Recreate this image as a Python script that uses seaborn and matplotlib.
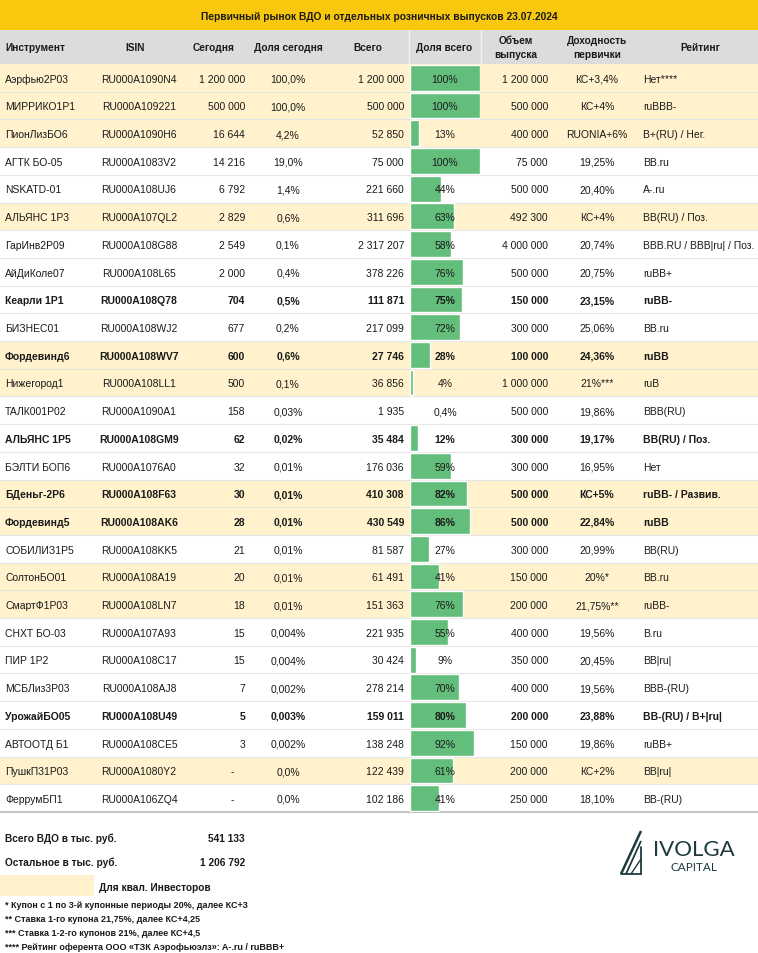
import pandas as pd
import seaborn as sns
import matplotlib.pyplot as plt
from matplotlib import font_manager
from matplotlib.patches import Rectangle

# --- данные таблицы ---
instruments = ['Аэрфью2Р03', 'МИРРИКО1Р1', 'ПионЛизБО6', 'АГТК БО-05', 'NSKATD-01',
               'АЛЬЯНС 1Р3', 'ГарИнв2Р09', 'АйДиКоле07', 'Кеарли 1Р1', 'БИЗНЕС01',
               'Фордевинд6', 'Нижегород1', 'ТАЛК001Р02', 'АЛЬЯНС 1Р5', 'БЭЛТИ БОП6',
               'БДеньг-2Р6', 'Фордевинд5', 'СОБИЛИЗ1Р5', 'СолтонБО01', 'СмартФ1Р03',
               'СНХТ БО-03', 'ПИР 1Р2', 'МСБЛиз3Р03', 'УрожайБО05', 'АВТООТД Б1',
               'ПушкП31Р03', 'ФеррумБП1']
isin = ['RU000A1090N4', 'RU000A109221', 'RU000A1090H6', 'RU000A1083V2', 'RU000A108UJ6',
        'RU000A107QL2', 'RU000A108G88', 'RU000A108L65', 'RU000A108Q78', 'RU000A108WJ2',
        'RU000A108WV7', 'RU000A108LL1', 'RU000A1090A1', 'RU000A108GM9', 'RU000A1076A0',
        'RU000A108F63', 'RU000A108AK6', 'RU000A108KK5', 'RU000A108A19', 'RU000A108LN7',
        'RU000A107A93', 'RU000A108C17', 'RU000A108AJ8', 'RU000A108U49', 'RU000A108CE5',
        'RU000A1080Y2', 'RU000A106ZQ4']
today = [1200000, 500000, 16644, 14216, 6792, 2829, 2549, 2000, 704, 677, 600, 500, 158,
         62, 32, 30, 28, 21, 20, 18, 15, 15, 7, 5, 3, None, None]
share_today = ['100,0%', '100,0%', '4,2%', '19,0%', '1,4%', '0,6%', '0,1%', '0,4%', '0,5%',
               '0,2%', '0,6%', '0,1%', '0,03%', '0,02%', '0,01%', '0,01%', '0,01%', '0,01%',
               '0,01%', '0,01%', '0,004%', '0,004%', '0,002%', '0,003%', '0,002%', '0,0%', '0,0%']
total = [1200000, 500000, 52850, 75000, 221660, 311696, 2317207, 378226, 111871, 217099,
         27746, 36856, 1935, 35484, 176036, 410308, 430549, 81587, 61491, 151363, 221935,
         30424, 278214, 159011, 138248, 122439, 102186]
share_total = [100, 100, 13, 100, 44, 63, 58, 76, 75, 72, 28, 4, 0.4, 12, 59, 82, 86, 27,
               41, 76, 55, 9, 70, 80, 92, 61, 41]
volume = [1200000, 500000, 400000, 75000, 500000, 492300, 4000000, 500000, 150000, 300000,
          100000, 1000000, 500000, 300000, 300000, 500000, 500000, 300000, 150000, 200000,
          400000, 350000, 400000, 200000, 150000, 200000, 250000]
yields = ['КС+3,4%', 'КС+4%', 'RUONIA+6%', '19,25%', '20,40%', 'КС+4%', '20,74%', '20,75%',
          '23,15%', '25,06%', '24,36%', '21%***', '19,86%', '19,17%', '16,95%', 'КС+5%',
          '22,84%', '20,99%', '20%*', '21,75%**', '19,56%', '20,45%', '19,56%', '23,88%',
          '19,86%', 'КС+2%', '18,10%']
ratings = ['Нет****', 'ruBBB-', 'B+(RU) / Нег.', 'BB.ru', 'A-.ru', 'BB(RU) / Поз.',
           'BBB.RU / BBB|ru| / Поз.', 'ruBB+', 'ruBB-', 'BB.ru', 'ruBB', 'ruB', 'BBB(RU)',
           'BB(RU) / Поз.', 'Нет', 'ruBB- / Развив.', 'ruBB', 'BB(RU)', 'BB.ru', 'ruBB-',
           'B.ru', 'BB|ru|', 'BBB-(RU)', 'BB-(RU) / B+|ru|', 'ruBB+', 'BB|ru|', 'BB-(RU)']
qual = ['Аэрфью2Р03', 'МИРРИКО1Р1', 'ПионЛизБО6', 'АЛЬЯНС 1Р3', 'Фордевинд6', 'Нижегород1',
        'БДеньг-2Р6', 'Фордевинд5', 'СолтонБО01', 'СмартФ1Р03', 'ПушкП31Р03']
bold = ['Кеарли 1Р1', 'Фордевинд6', 'АЛЬЯНС 1Р5', 'БДеньг-2Р6', 'Фордевинд5', 'УрожайБО05']

title = 'Первичный рынок ВДО и отдельных розничных выпусков 23.07.2024'
headers = ['Инструмент', 'ISIN', 'Сегодня', 'Доля сегодня', 'Всего', 'Доля всего',
           'Объем\nвыпуска', 'Доходность\nпервички', 'Рейтинг']
total_vdo = '541 133'
total_other = '1 206 792'
footnotes = ['* Купон с 1 по 3-й купонные периоды 20%, далее КС+3',
             '** Ставка 1-го купона 21,75%, далее КС+4,25',
             '*** Ставка 1-2-го купонов 21%, далее КС+4,5',
             '**** Рейтинг оферента ООО «ТЗК Аэрофьюэлз»: A-.ru / ruBBB+']

df = pd.DataFrame({'Инструмент': instruments, 'Доля всего': share_total})


def fmt(v):
    if v is None:
        return '-'
    return f'{v:,}'.replace(',', ' ')


def fmt_pct(v):
    return (f'{v:g}%').replace('.', ',')


avail = {f.name for f in font_manager.fontManager.ttflist}
NARROW = 'Liberation Sans Narrow' if 'Liberation Sans Narrow' in avail else 'Liberation Sans'
REG = 'Liberation Sans'

sns.set_style('white')
plt.rcParams['font.family'] = [REG, 'DejaVu Sans']

W, H = 758, 954
fig = plt.figure(figsize=(W / 100, H / 100), dpi=100)
ax = fig.add_axes([0, 0, 1, 1])
ax.set_xlim(0, W)
ax.set_ylim(H, 0)
ax.axis('off')

YELLOW = '#F9C80E'
GRAY = '#DCDCDC'
QUAL = '#FFF2CC'
GREEN = '#63BE7B'
TXT = '#1A1A1A'

n = len(instruments)
top, bottom = 65, 813
rh = (bottom - top) / n
BL = 3.8  # сдвиг базовой линии от центра строки, px

# шапка
ax.add_patch(Rectangle((0, 0), W, 31, color=YELLOW, lw=0))
ax.text(W / 2, 16 + BL, title, ha='center', va='baseline', fontsize=7.4,
        fontweight='bold', family=[NARROW, 'DejaVu Sans'], color=TXT)
ax.add_patch(Rectangle((0, 31), W, top - 31, color=GRAY, lw=0))
for xs in [409, 481]:
    ax.plot([xs, xs], [31, top], color='#F2F2F2', lw=1)
hx = [5, 135, 214, 288, 368, 444, 516, 597, 700]
for i, (h, x) in enumerate(zip(headers, hx)):
    ax.text(x, (31 + top) / 2, h, ha='left' if i == 0 else 'center', va='center',
            fontsize=7.3, fontweight='bold', family=[NARROW, 'DejaVu Sans'],
            color=TXT, linespacing=1.6)

# строки
for i in range(n):
    y0 = top + i * rh
    if instruments[i] in qual:
        ax.add_patch(Rectangle((0, y0), W, rh, color=QUAL, lw=0))
    ax.plot([0, W], [y0 + rh, y0 + rh], color='#E6E6E6', lw=0.8)
ax.plot([0, W], [bottom, bottom], color='#BDBDBD', lw=1.2)

for i in range(n):
    yb = top + (i + 0.5) * rh + BL
    w = 'bold' if instruments[i] in bold else 'normal'
    kw = dict(va='baseline', fontsize=7.5, fontweight=w, color=TXT)
    ax.text(5, yb, instruments[i], ha='left', **kw)
    ax.text(139, yb, isin[i], ha='center', **kw)
    if today[i] is None:
        ax.text(232, yb, '-', ha='center', **kw)
    else:
        ax.text(245, yb, fmt(today[i]), ha='right', **kw)
    ax.text(288, yb, share_today[i], ha='center', **kw)
    ax.text(404, yb, fmt(total[i]), ha='right', **kw)
    ax.text(548, yb, fmt(volume[i]), ha='right', **kw)
    ax.text(597, yb, yields[i], ha='center', **kw)
    ax.text(643, yb, ratings[i], ha='left', **kw)

# гистограмма доли всего
bax = fig.add_axes([410 / W, 1 - bottom / H, 70 / W, (bottom - top) / H])
bax.patch.set_alpha(0)
sns.barplot(data=df, x='Доля всего', y='Инструмент', orient='h', color=GREEN,
            saturation=1, width=0.93, ax=bax)
bax.set_xlim(0, 100)
bax.set_ylim(n - 0.5, -0.5)
bax.axis('off')
for i, v in enumerate(share_total):
    w = 'bold' if instruments[i] in bold else 'normal'
    bax.text(50, i + BL / rh, fmt_pct(v), ha='center', va='baseline', fontsize=7.5,
             fontweight=w, color=TXT, zorder=5)

# итоги
fkw = dict(fontsize=7.3, fontweight='bold', family=[NARROW, 'DejaVu Sans'], color=TXT,
           va='baseline')
ax.text(5, 838 + BL, 'Всего ВДО в тыс. руб.', ha='left', **fkw)
ax.text(245, 838 + BL, total_vdo, ha='right', **fkw)
ax.text(5, 862 + BL, 'Остальное в тыс. руб.', ha='left', **fkw)
ax.text(245, 862 + BL, total_other, ha='right', **fkw)
ax.add_patch(Rectangle((0, 876), 94, 21, color=QUAL, lw=0))
ax.text(99, 887 + BL, 'Для квал. Инвесторов', ha='left', **fkw)
fkw['fontsize'] = 6.5
for k, t in enumerate(footnotes):
    ax.text(5, 905 + 14 * k + 3.3, t, ha='left', **fkw)

# логотип
LOGO = '#1E3B3F'
ax.plot([621, 641], [875, 832], color=LOGO, lw=1.8, solid_capstyle='butt')
ax.plot([626, 641], [875, 842], color=LOGO, lw=1.3, solid_capstyle='butt')
ax.plot([641, 641], [848, 875], color=LOGO, lw=1.3)
ax.plot([621, 641], [875, 875], color=LOGO, lw=1.3)
ax.plot([631, 641], [875, 860], color=LOGO, lw=1.0)
ax.text(694, 850, 'IVOLGA', ha='center', va='center', fontsize=16, color=LOGO,
        family=['Lato', 'DejaVu Sans'])
ax.text(694, 868, 'CAPITAL', ha='center', va='center', fontsize=8.5, color=LOGO,
        family=['Lato', 'DejaVu Sans'])

fig.savefig('out.png', dpi=100)
